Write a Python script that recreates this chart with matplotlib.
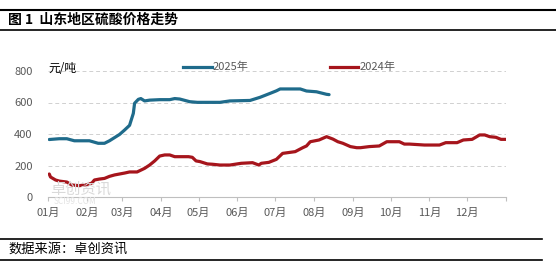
import matplotlib.pyplot as plt
from matplotlib.lines import Line2D

plt.rcParams['font.family'] = ['Noto Sans CJK SC', 'DejaVu Sans']

# === data (day of year, price yuan/ton) ===
days_2025 = [1, 9, 15, 21, 33, 40, 45, 49, 55, 57, 61, 65, 68, 69, 72, 74, 77, 81,
             89, 97, 101, 105, 113, 119, 121, 137, 145, 161, 169, 177, 182, 185,
             193, 201, 206, 214, 222, 224]
price_2025 = [365, 370, 370, 357, 357, 341, 341, 357, 387, 397, 425, 455, 531, 595,
              620, 625, 610, 615, 618, 618, 625, 622, 605, 601, 601, 601, 610, 613,
              633, 658, 674, 686, 686, 686, 673, 668, 652, 650]

days_2024 = [1, 2, 6, 9, 15, 19, 25, 29, 32, 35, 37, 41, 45, 49, 53, 57, 61, 65,
             71, 77, 81, 85, 89, 93, 97, 101, 105, 112, 115, 118, 121, 127, 131,
             137, 140, 143, 145, 154, 163, 168, 170, 176, 182, 187, 197, 203, 206,
             209, 216, 222, 227, 231, 235, 241, 246, 249, 256, 264, 270, 280, 284,
             288, 300, 312, 317, 326, 331, 338, 344, 348, 352, 357, 361, 365]
price_2024 = [146, 127, 108, 101, 95, 76, 72, 76, 80, 89, 108, 114, 118, 131, 140,
              146, 152, 159, 159, 182, 203, 229, 260, 267, 267, 256, 256, 256,
              252, 229, 225, 210, 208, 203, 203, 203, 203, 214, 218, 203, 214, 220,
              239, 277, 288, 313, 324, 351, 362, 383, 368, 351, 341, 320, 313, 313,
              320, 324, 351, 351, 336, 336, 330, 330, 345, 345, 362, 366, 394, 394,
              383, 379, 366, 366]

month_starts = [0, 31, 59, 90, 120, 151, 181, 212, 243, 273, 304, 334, 365]
month_labels = ['01月', '02月', '03月', '04月', '05月', '06月', '07月', '08月',
                '09月', '10月', '11月', '12月']
y_ticks = [0, 200, 400, 600, 800]

blue = '#1F6B8B'
red = '#A6151C'
gray = '#595959'

fig = plt.figure(figsize=(5.56, 2.66), dpi=100)
ax = fig.add_axes([48 / 556, 69 / 266, 458 / 556, 126 / 266])

ax.plot(days_2025, price_2025, color=blue, lw=2.3, solid_capstyle='round')
ax.plot(days_2024, price_2024, color=red, lw=2.3, solid_capstyle='round')

ax.set_xlim(0, 365)
ax.set_ylim(0, 800)
ax.set_yticks(y_ticks)
ax.set_yticklabels([str(v) for v in y_ticks], color=gray, fontsize=8)
ax.set_xticks(month_starts)
ax.set_xticklabels(month_labels + [''], color=gray, fontsize=8)
ax.tick_params(axis='y', length=0, pad=11)
ax.tick_params(axis='x', length=3, color='#BFBFBF', pad=5)
ax.grid(axis='y', color='#D0D0D0', ls=(0, (4, 3)), lw=0.7)
for s in ['top', 'right', 'left']:
    ax.spines[s].set_visible(False)
ax.spines['bottom'].set_color('#BFBFBF')
ax.spines['bottom'].set_linewidth(0.8)

# unit and legend
fig.text(48 / 556, 1 - 69 / 266, '元/吨', fontsize=8.5, va='center', ha='left')
fig.add_artist(Line2D([183 / 556, 212 / 556], [1 - 67 / 266] * 2, color=blue, lw=2.3))
fig.text(213 / 556, 1 - 67 / 266, '2025年', fontsize=8, color=gray, va='center')
fig.add_artist(Line2D([330 / 556, 358 / 556], [1 - 67 / 266] * 2, color=red, lw=2.3))
fig.text(360 / 556, 1 - 67 / 266, '2024年', fontsize=8, color=gray, va='center')

# watermark
fig.text(50 / 556, 1 - 189 / 266, '卓创资讯', fontsize=11, color='#D9D9D9', va='center',
         zorder=0)
fig.text(54 / 556, 1 - 201 / 266, 'SCI99.COM', fontsize=6, color='#E3E3E3', va='center',
         zorder=0)

# title block
fig.add_artist(Line2D([0, 1], [1 - 9.5 / 266] * 2, color='black', lw=1.5))
fig.add_artist(Line2D([0, 1], [1 - 30 / 266] * 2, color='black', lw=1.2))
fig.text(8 / 556, 1 - 20 / 266, '图 1  山东地区硫酸价格走势', fontsize=10,
         fontweight='bold', va='center')

# source block
fig.add_artist(Line2D([0, 542 / 556], [1 - 239 / 266] * 2, color='black', lw=1.2))
fig.add_artist(Line2D([0, 542 / 556], [1 - 260 / 266] * 2, color='black', lw=1.2))
fig.text(8 / 556, 1 - 249.5 / 266, '数据来源：卓创资讯', fontsize=9.5, va='center')

fig.savefig('out.png', dpi=100)
